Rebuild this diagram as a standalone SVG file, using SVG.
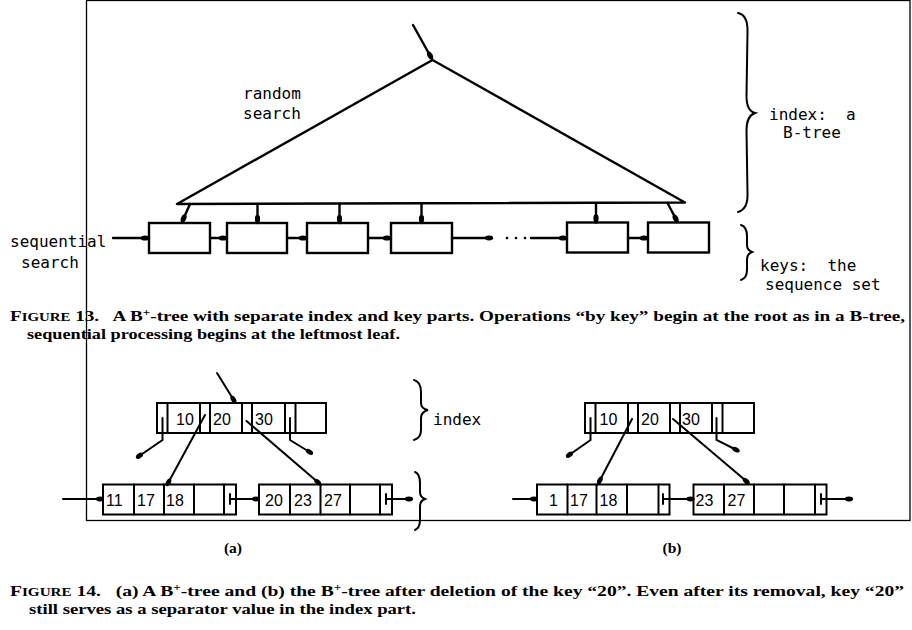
<svg xmlns="http://www.w3.org/2000/svg" width="912" height="630" viewBox="0 0 912 630">
<style>
.ln{stroke:#000;fill:none;stroke-width:2.4;stroke-linecap:round;stroke-linejoin:round}
.th{stroke:#000;fill:none;stroke-width:2;stroke-linecap:round}
.bx{stroke:#000;fill:#fff;stroke-width:2.4}
.cell{stroke:#000;fill:#fff;stroke-width:2}
.mono{font-family:"DejaVu Sans Mono","Liberation Mono",monospace;font-size:16px;fill:#000}
.dig{font-family:"Liberation Sans",Arial,sans-serif;font-size:16px;fill:#000}
.cap{font-family:"Liberation Serif","Times New Roman",serif;font-size:15.5px;font-weight:bold;fill:#000}
.sc{font-size:12px}
.sup{font-size:10.5px}
</style>
<defs>
<marker id="dot" markerUnits="userSpaceOnUse" markerWidth="16" markerHeight="10" refX="12" refY="5" orient="auto" overflow="visible">
<ellipse cx="8" cy="5" rx="4.2" ry="2.6" fill="#000"/>
</marker>
<marker id="dot2" markerUnits="userSpaceOnUse" markerWidth="16" markerHeight="10" refX="10" refY="5" orient="auto" overflow="visible">
<ellipse cx="7" cy="5" rx="4" ry="2.4" fill="#000"/>
</marker>
</defs>
<rect width="912" height="630" fill="#fff"/>

<!-- Figure 13 -->
<g id="index-tree">
<path class="ln" d="M432.5,60 L177,204 L685,202.5 Z"/>
</g>
<g id="leaf1"><rect class="bx" x="149" y="223" width="61" height="30"/></g>
<g id="leaf2"><rect class="bx" x="227" y="223" width="60" height="30"/></g>
<g id="leaf3"><rect class="bx" x="307" y="223" width="61" height="30"/></g>
<g id="leaf4"><rect class="bx" x="391" y="223" width="61" height="30"/></g>
<g id="leaf5"><rect class="bx" x="567" y="222.5" width="61" height="30"/></g>
<g id="leaf6"><rect class="bx" x="648" y="222.5" width="61" height="30"/></g>

<g id="connectors13">
<line class="ln" x1="413" y1="25" x2="432" y2="59" marker-end="url(#dot)"/>
<line class="ln" x1="113" y1="238" x2="149" y2="238" marker-end="url(#dot)"/>
<line class="ln" x1="210" y1="238" x2="227" y2="238" marker-end="url(#dot)"/>
<line class="ln" x1="287" y1="238" x2="307" y2="238" marker-end="url(#dot)"/>
<line class="ln" x1="368" y1="238" x2="391" y2="238" marker-end="url(#dot)"/>
<line class="ln" x1="452" y1="238" x2="492" y2="238" marker-end="url(#dot2)"/>
<circle cx="507" cy="238" r="1.3" fill="#000"/>
<circle cx="516" cy="238" r="1.3" fill="#000"/>
<circle cx="525" cy="238" r="1.3" fill="#000"/>
<line class="ln" x1="531" y1="238" x2="567" y2="238" marker-end="url(#dot)"/>
<line class="ln" x1="628" y1="238" x2="648" y2="238" marker-end="url(#dot)"/>
<line class="ln" x1="190" y1="204" x2="182" y2="222" marker-end="url(#dot)"/>
<line class="ln" x1="257.5" y1="204" x2="257.5" y2="223" marker-end="url(#dot)"/>
<line class="ln" x1="339.5" y1="204" x2="339.5" y2="223" marker-end="url(#dot)"/>
<line class="ln" x1="421.5" y1="204" x2="421.5" y2="223" marker-end="url(#dot)"/>
<line class="ln" x1="596" y1="203" x2="596" y2="222.5" marker-end="url(#dot)"/>
<line class="ln" x1="667.5" y1="203" x2="677.5" y2="222" marker-end="url(#dot)"/>
</g>

<g id="braces13">
<path class="th" d="M738,13 Q748,15 747.5,32 L746.5,96 Q746.5,111 755,113 Q746.5,116 746.5,130 L747.5,194 Q748,209 738,212"/>
<path class="th" d="M741,225 Q747,227 747,236 L747,245 Q747,250 752,252 Q747,254 747,259 L747,270 Q747,278 741,280"/>
</g>

<g id="labels13">
<text class="mono" x="243" y="99">random</text>
<text class="mono" x="243" y="119">search</text>
<text class="mono" x="769" y="120" xml:space="preserve">index:  a</text>
<text class="mono" x="783" y="138">B-tree</text>
<text class="mono" x="760" y="271" xml:space="preserve">keys:  the</text>
<text class="mono" x="765" y="290">sequence set</text>
<text class="mono" x="10" y="247">sequential</text>
<text class="mono" x="21" y="268">search</text>
</g>

<g id="caption13">
<text class="cap" x="10" y="321" textLength="895" lengthAdjust="spacingAndGlyphs" xml:space="preserve">F<tspan class="sc">IGURE</tspan> 13.   A B<tspan class="sup" baseline-shift="super">+</tspan>-tree with separate index and key parts. Operations “by key” begin at the root as in a B-tree,</text>
<text class="cap" x="27" y="338.5" textLength="373" lengthAdjust="spacingAndGlyphs">sequential processing begins at the leftmost leaf.</text>
</g>

<!-- Figure 14 (a) -->
<g id="a-index">
<rect class="cell" x="157" y="403" width="169" height="30"/>
<path class="th" d="M167.5,403V433M200,403V433M210,403V433M242,403V433M252,403V433M285,403V433M295.5,403V433"/>
<text class="dig" x="176" y="424.5">10</text>
<text class="dig" x="213" y="424.5">20</text>
<text class="dig" x="255" y="424.5">30</text>
</g>
<g id="a-leaf1">
<rect class="cell" x="103" y="484.5" width="133" height="30"/>
<path class="th" d="M134,484.5V514.5M164,484.5V514.5M194,484.5V514.5M224,484.5V514.5"/>
<text class="dig" x="106" y="506">11</text>
<text class="dig" x="137" y="506">17</text>
<text class="dig" x="166" y="506">18</text>
</g>
<g id="a-leaf2">
<rect class="cell" x="259" y="484.5" width="133" height="30"/>
<path class="th" d="M290,484.5V514.5M320.5,484.5V514.5M350,484.5V514.5M380,484.5V514.5"/>
<text class="dig" x="265" y="506">20</text>
<text class="dig" x="294" y="506">23</text>
<text class="dig" x="324" y="506">27</text>
</g>
<g id="connectors14a">
<line class="th" x1="217" y1="373" x2="235" y2="402" marker-end="url(#dot2)"/>
<path class="th" d="M162.5,418 V440 L137,457.5" marker-end="url(#dot2)"/>
<line class="th" x1="205" y1="415" x2="167" y2="485" marker-end="url(#dot2)"/>
<line class="th" x1="246.5" y1="421" x2="320" y2="484" marker-end="url(#dot2)"/>
<path class="th" d="M290,418 V440 L312,453.5" marker-end="url(#dot2)"/>
<line class="th" x1="63" y1="499" x2="103" y2="499" marker-end="url(#dot2)"/>
<path class="th" d="M230,494 V504 M230,499 H259" marker-end="url(#dot2)"/>
<path class="th" d="M386,494 V504 M386,499 H412" marker-end="url(#dot2)"/>
</g>
<g id="braces14">
<path class="th" d="M414,380 Q421,382 421,392 L421,403 Q421,409 428,410 Q421,412 421,418 L421,430 Q421,438 414,440"/>
<path class="th" d="M415,472 Q420,474 420,483 L420,492 Q420,497 425,499 Q420,501 420,506 L420,520 Q420,528 415,530"/>
</g>
<text class="mono" x="433" y="425">index</text>

<!-- Figure 14 (b) -->
<g id="b-index">
<rect class="cell" x="585" y="403" width="169" height="30"/>
<path class="th" d="M595.5,403V433M628,403V433M638,403V433M670,403V433M680,403V433M712,403V433M722.5,403V433"/>
<text class="dig" x="599.5" y="424.5">10</text>
<text class="dig" x="641" y="424.5">20</text>
<text class="dig" x="682" y="424.5">30</text>
</g>
<g id="b-leaf1">
<rect class="cell" x="537" y="484.5" width="132.5" height="30"/>
<path class="th" d="M567.5,484.5V514.5M596.5,484.5V514.5M627,484.5V514.5M658.5,484.5V514.5"/>
<text class="dig" x="549" y="506">1</text>
<text class="dig" x="570" y="506">17</text>
<text class="dig" x="599.5" y="506">18</text>
</g>
<g id="b-leaf2">
<rect class="cell" x="693.5" y="484.5" width="133" height="30"/>
<path class="th" d="M724,484.5V514.5M754,484.5V514.5M784,484.5V514.5M815,484.5V514.5"/>
<text class="dig" x="695.5" y="506">23</text>
<text class="dig" x="727.5" y="506">27</text>
</g>
<g id="connectors14b">
<path class="th" d="M590.5,418 V440 L567,456.5" marker-end="url(#dot2)"/>
<line class="th" x1="632" y1="419" x2="598.5" y2="483" marker-end="url(#dot2)"/>
<line class="th" x1="673" y1="419" x2="748.5" y2="483" marker-end="url(#dot2)"/>
<path class="th" d="M716.5,418 V440 L738.5,451" marker-end="url(#dot2)"/>
<line class="th" x1="513" y1="499" x2="537" y2="499" marker-end="url(#dot2)"/>
<path class="th" d="M663,494 V504 M663,499 H693.5" marker-end="url(#dot2)"/>
<path class="th" d="M821,494 V504 M821,499 H852" marker-end="url(#dot2)"/>
</g>

<text class="cap" x="233" y="553" text-anchor="middle">(a)</text>
<text class="cap" x="672" y="553" text-anchor="middle">(b)</text>

<g id="caption14">
<text class="cap" x="10" y="596" textLength="894" lengthAdjust="spacingAndGlyphs" xml:space="preserve">F<tspan class="sc">IGURE</tspan> 14.   (a) A B<tspan class="sup" baseline-shift="super">+</tspan>-tree and (b) the B<tspan class="sup" baseline-shift="super">+</tspan>-tree after deletion of the key “20”. Even after its removal, key “20”</text>
<text class="cap" x="29" y="613.5" textLength="387" lengthAdjust="spacingAndGlyphs">still serves as a separator value in the index part.</text>
</g>

<rect id="frame" x="86.5" y="0.5" width="823.5" height="520" fill="none" stroke="#000" stroke-width="1.3"/>
</svg>
